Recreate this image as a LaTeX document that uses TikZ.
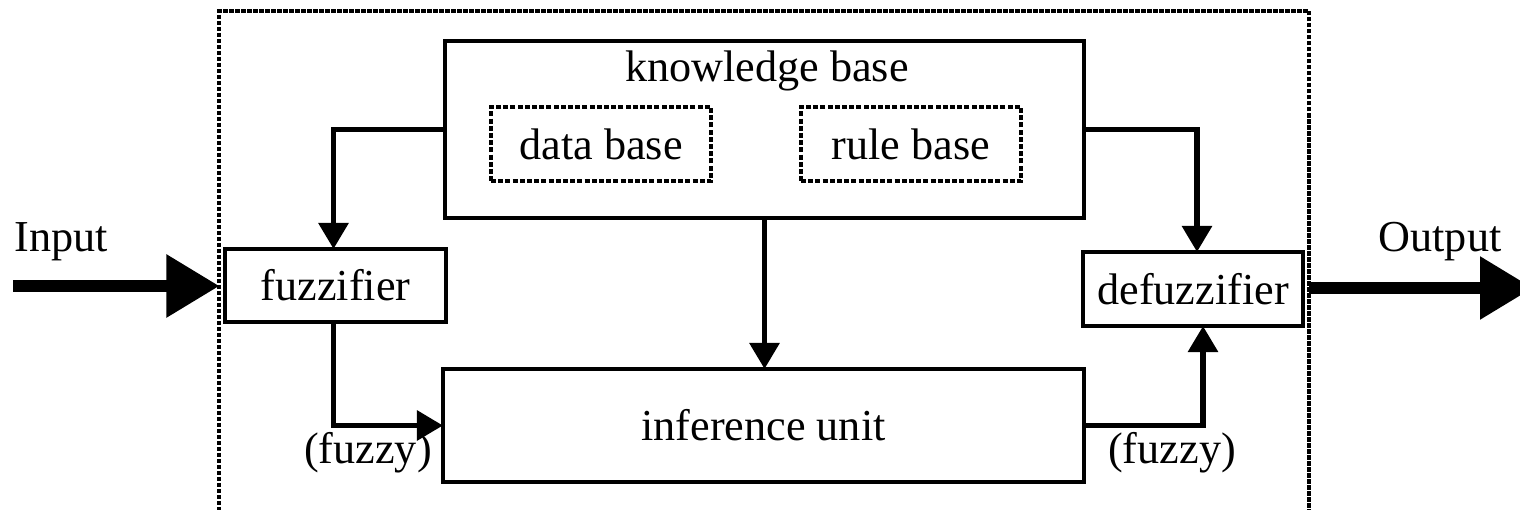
\documentclass[tikz,border=0pt]{standalone}
\usepackage{fontspec}
\setmainfont{Liberation Serif}
\usetikzlibrary{arrows.meta}
\tikzset{
  txt/.style={font=\fontsize{22.1bp}{26bp}\selectfont, inner sep=0pt, outer sep=0pt},
  box/.style={txt, draw, line width=1.9bp, minimum width=#1},
  dbox/.style={txt, draw, line width=1.8bp, dash pattern=on 2.5bp off 1.1bp},
  sysbox/.style={draw, line width=2bp, dash pattern=on 2.1bp off 0.9bp, inner sep=0pt, outer sep=0pt},
  conn/.style={line width=2.9bp, -{Triangle[length=13bp, width=14.5bp]}},
  bigarrow/.style={line width=6bp, -{Triangle[length=26.5bp, width=30bp]}},
}
\begin{document}
\begin{tikzpicture}[x=0.5bp, y=-0.5bp]
\useasboundingbox (0,0) rectangle (1520,510);
% outer dotted system boundary (open below the picture)
\node[sysbox, minimum width=544.75bp, minimum height=294.5bp] (sys) at (764.25,305.5) {};
% blocks
\node[box=319.5bp, minimum height=88.5bp] (kb) at (764.5,129.5) {};
\node[txt, anchor=base] (kbl) at (767,82) {knowledge base};
\node[dbox, minimum width=110bp, minimum height=37bp] (db) at (601,144) {data base};
\node[dbox, minimum width=110bp, minimum height=37bp] (rb) at (911,144) {rule base};
\node[box=110.5bp, minimum height=36.5bp] (fz) at (335.5,285.5) {fuzzifier};
\node[box=110bp, minimum height=37bp] (dfz) at (1193,289) {defuzzifier};
\node[box=320.5bp, minimum height=56.5bp] (inf) at (763.5,425.5) {inference unit};
% labels
\node[txt, anchor=base] (inl) at (61,252) {Input};
\node[txt, anchor=base] (outl) at (1440,252) {Output};
\node[txt, anchor=base] (fl1) at (368,463) {(fuzzy)};
\node[txt, anchor=base] (fl2) at (1172,463) {(fuzzy)};
% connectors
\draw[conn] (kb.west) -| ([xshift=-1bp]fz.north);
\draw[conn] (kb.east) -| ([xshift=2bp]dfz.north);
\draw[conn] (kb.south) -- (kb.south |- inf.north);
\draw[conn] ([xshift=-1bp]fz.south) |- (inf.west);
\draw[conn] (inf.east) -| ([xshift=5bp]dfz.south);
% input / output
\coordinate (inS) at (13,286);
\coordinate (outE) at (1533,288);
\draw[bigarrow] (inS) -- (inS -| sys.west);
\draw[bigarrow] (outE -| sys.east) -- (outE);
\end{tikzpicture}
\end{document}
